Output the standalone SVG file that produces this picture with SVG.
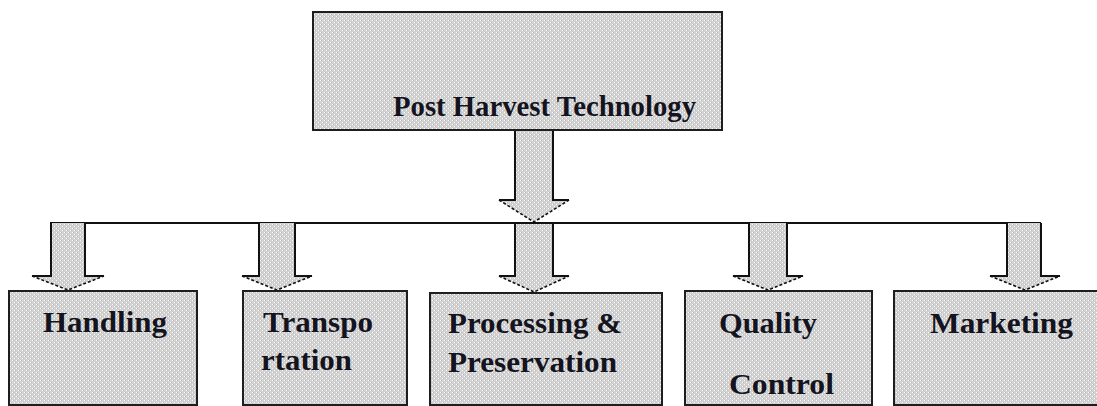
<svg xmlns="http://www.w3.org/2000/svg" width="1097" height="406" viewBox="0 0 1097 406">
  <defs>
    <!-- light grey dotted-diamond fill used by every box and arrow -->
    <pattern id="dots" width="4" height="4" patternUnits="userSpaceOnUse">
      <rect width="4" height="4" fill="#d2d2d2"/>
      <rect x="0" y="0" width="1" height="1" fill="#ffffff"/>
      <rect x="2" y="2" width="1" height="1" fill="#ffffff"/>
      <rect x="1" y="0" width="1" height="1" fill="#bdbdbd"/>
      <rect x="3" y="2" width="1" height="1" fill="#bdbdbd"/>
    </pattern>
  </defs>
  <style>
    .box { fill: url(#dots); stroke: #1e1e1e; stroke-width: 2; }
    .afill { fill: url(#dots); stroke: none; }
    .edge { fill: none; stroke: #111; stroke-width: 2; }
    .dash { fill: none; stroke: #111; stroke-width: 1.6; stroke-dasharray: 3 2; }
    .lbl { font-family: 'Liberation Serif', 'DejaVu Serif', 'Times New Roman', serif; font-weight: 700; font-size: 29px; fill: #141420; }
  </style>

  <rect width="1097" height="406" fill="#ffffff"/>

  <!-- connectors: bus line and block arrows -->
  <g id="connectors">
    <line class="edge" x1="50" y1="223" x2="1041" y2="223"/>

    <!-- main arrow from the top box -->
    <g id="arrow-main">
      <polygon class="afill" points="515,130 553,130 553,200 569,200 534,222 499,200 515,200"/>
      <polyline class="edge" points="515,131 515,200 499,200"/>
      <polyline class="edge" points="553,131 553,200 569,200"/>
      <polyline class="dash" points="499,200 534,222 569,200"/>
    </g>

    <g id="arrow-handling">
      <polygon class="afill" points="51,223 85,223 85,276 104,276 68,290 32,276 51,276"/>
      <polyline class="edge" points="51,223 51,276 32,276"/>
      <polyline class="edge" points="85,223 85,276 104,276"/>
      <polyline class="dash" points="32,276 68,290 104,276"/>
    </g>

    <g id="arrow-transportation">
      <polygon class="afill" points="259,223 295,223 295,276 312,276 277,290 242,276 259,276"/>
      <polyline class="edge" points="259,223 259,276 242,276"/>
      <polyline class="edge" points="295,223 295,276 312,276"/>
      <polyline class="dash" points="242,276 277,290 312,276"/>
    </g>

    <g id="arrow-processing">
      <polygon class="afill" points="515,224 553,224 553,276 569,276 534,292 499,276 515,276"/>
      <polyline class="edge" points="515,224 515,276 499,276"/>
      <polyline class="edge" points="553,224 553,276 569,276"/>
      <polyline class="dash" points="499,276 534,292 569,276"/>
    </g>

    <g id="arrow-quality">
      <polygon class="afill" points="749,223 787,223 787,276 803,276 768,290 733,276 749,276"/>
      <polyline class="edge" points="749,223 749,276 733,276"/>
      <polyline class="edge" points="787,223 787,276 803,276"/>
      <polyline class="dash" points="733,276 768,290 803,276"/>
    </g>

    <g id="arrow-marketing">
      <polygon class="afill" points="1007,223 1041,223 1041,276 1060,276 1025,290 990,276 1007,276"/>
      <polyline class="edge" points="1007,223 1007,276 990,276"/>
      <polyline class="edge" points="1041,223 1041,276 1060,276"/>
      <polyline class="dash" points="990,276 1025,290 1060,276"/>
    </g>
  </g>

  <!-- top node -->
  <g id="node-pht">
    <rect class="box" x="313" y="12" width="409" height="118"/>
    <text class="lbl" x="393" y="116" textLength="303" lengthAdjust="spacingAndGlyphs">Post Harvest Technology</text>
  </g>

  <!-- child nodes -->
  <g id="node-handling">
    <rect class="box" x="9" y="291" width="188" height="114"/>
    <text class="lbl" x="43" y="332" textLength="124" lengthAdjust="spacingAndGlyphs">Handling</text>
  </g>

  <g id="node-transportation">
    <rect class="box" x="243" y="291" width="164" height="114"/>
    <text class="lbl" x="263" y="332" textLength="110" lengthAdjust="spacingAndGlyphs">Transpo</text>
    <text class="lbl" x="261" y="370" textLength="91" lengthAdjust="spacingAndGlyphs">rtation</text>
  </g>

  <g id="node-processing">
    <rect class="box" x="430" y="293" width="232" height="112"/>
    <text class="lbl" x="448" y="333" textLength="174" lengthAdjust="spacingAndGlyphs">Processing &amp;</text>
    <text class="lbl" x="448" y="372" textLength="169" lengthAdjust="spacingAndGlyphs">Preservation</text>
  </g>

  <g id="node-quality">
    <rect class="box" x="685" y="291" width="187" height="114"/>
    <text class="lbl" x="719" y="333" textLength="98" lengthAdjust="spacingAndGlyphs">Quality</text>
    <text class="lbl" x="729" y="394" textLength="105" lengthAdjust="spacingAndGlyphs">Control</text>
  </g>

  <g id="node-marketing">
    <rect class="box" x="894" y="291" width="210" height="114"/>
    <text class="lbl" x="930" y="333" textLength="143" lengthAdjust="spacingAndGlyphs">Marketing</text>
  </g>
</svg>
